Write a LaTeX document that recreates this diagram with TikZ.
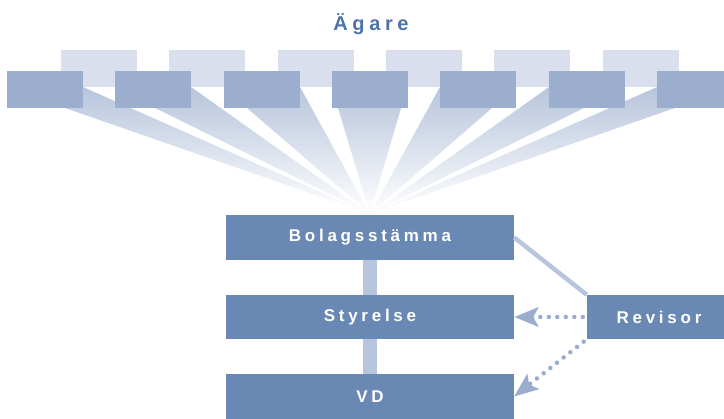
\documentclass[tikz,border=0pt]{standalone}
\usepackage{fontspec}
\setmainfont{Liberation Sans}
\newfontfamily\organfont{Liberation Sans}[LetterSpace=22]
\newfontfamily\headfont{Liberation Sans}[LetterSpace=23]
\usetikzlibrary{arrows.meta}
\definecolor{organblue}{HTML}{6988B3}
\definecolor{frontblue}{HTML}{9BAECD}
\definecolor{backblue}{HTML}{D9DFEC}
\definecolor{fanblue}{HTML}{B8C5DC}
\definecolor{linkblue}{HTML}{B8C5DE}
\definecolor{dotblue}{HTML}{9AADCE}
\definecolor{headblue}{HTML}{4D72A8}
\begin{document}
\begin{tikzpicture}[x=1pt,y=-1pt,
  owner/.style={rectangle, fill=frontblue, minimum width=76pt, minimum height=37pt, inner sep=0pt},
  ownerback/.style={owner, fill=backblue},
  organ/.style={rectangle, fill=organblue, minimum width=288pt, minimum height=45pt, inner sep=0pt,
    text=white, font=\fontsize{17}{20}\organfont\bfseries},
  headline/.style={anchor=base, text=headblue, font=\fontsize{20}{24}\headfont\bfseries},
  link/.style={draw=linkblue, line width=14pt},
  revlink/.style={draw=linkblue, line width=4.5pt},
  audit/.style={draw=dotblue, line width=4.5pt, line cap=round, dash pattern=on 0pt off 8.5pt,
    shorten <=4pt, -{Stealth[length=24pt, width=19pt, inset=5pt, fill=dotblue]}}]
\useasboundingbox (0,0) rectangle (724,419);
% title
\node[headline] (head) at (371,30.5) {Ägare};
% owners, back row
\foreach \i in {0,...,5}
  \node[ownerback] (bk\i) at (99+108.33*\i,68.5) {};
% organs
\node[organ] (bolag) at (370,237.5) {Bolagsstämma};
\node[organ, minimum height=44pt] (styr) at (370,317) {Styrelse};
\node[organ] (vd) at (370,396.5) {VD};
\node[organ, minimum width=144pt, minimum height=44pt] (rev) at (659,317) {Revisor};
\coordinate (apex) at (370,214);
% fan from owners to the meeting
\begin{scope}
  \clip \foreach \a/\b/\c/\d in {65/108/83/87, 155/108/191/87, 247/108/300/87, 338/108/401/108,
    440/87/492/108, 549/87/584/108, 657/87/675/108} {(apex) -- (\a,\b) -- (\c,\d) -- cycle};
  \shade[top color=fanblue, bottom color=white] (0,87) rectangle (724,214);
\end{scope}
% owners, front row
\foreach \i in {0,...,6}
  \node[owner] (ag\i) at (45+108.33*\i,89.5) {};
% connectors
\draw[link] (bolag) -- (styr);
\draw[link] (styr) -- (vd);
\draw[revlink] (bolag.east) -- (rev.north west);
\draw[audit] (rev.west) -- (styr.east);
\draw[audit] (rev.south west) -- (vd.east);
\end{tikzpicture}
\end{document}
